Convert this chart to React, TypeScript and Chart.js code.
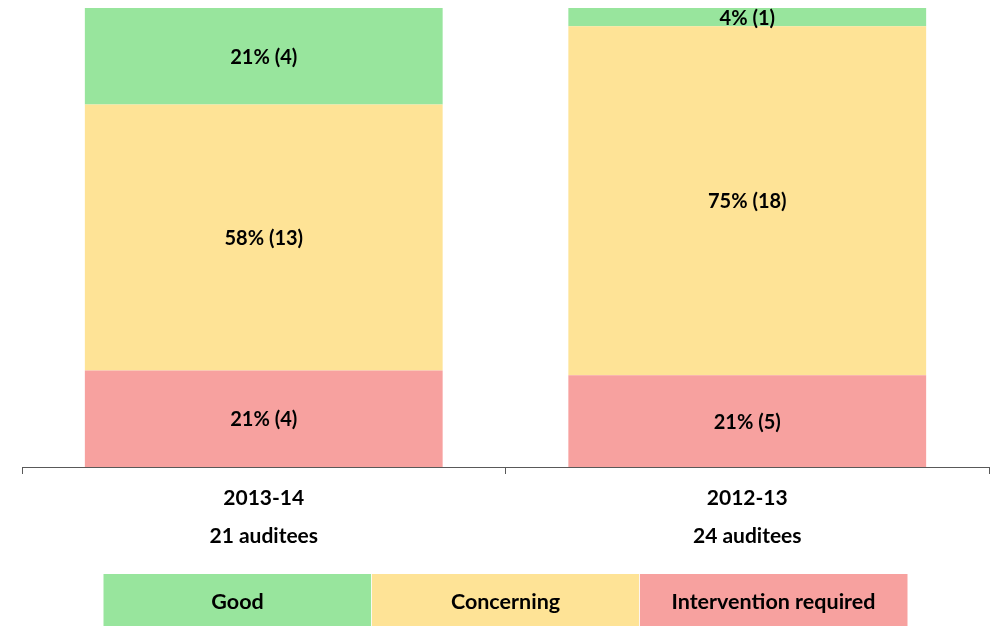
import React, { useEffect, useRef } from "react";
import { Chart, registerables } from "chart.js";

Chart.register(...registerables);

const categories = ["2013-14", "2012-13"];
const auditees = ["21 auditees", "24 auditees"];

// bar segment heights (share of auditees, %)
const interventionPct = [21, 20];
const concerningPct = [58, 76];
const goodPct = [21, 4];

// printed percentages
const interventionLabel = [21, 21];
const concerningLabel = [58, 75];
const goodLabel = [21, 4];

const interventionCount = [4, 5];
const concerningCount = [13, 18];
const goodCount = [4, 1];

const legendNames = ["Good", "Concerning", "Intervention required"];

const GREEN = "#98E59D";
const YELLOW = "#FEE396";
const RED = "#F7A19F";
const AXIS = "#595959";
const FONT = "Lato, 'Open Sans', sans-serif";

const labelPlugin = {
  id: "segLabels",
  afterDatasetsDraw(chart: any) {
    const ctx = chart.ctx;
    ctx.save();
    ctx.font = `bold 20px ${FONT}`;
    ctx.fillStyle = "#000";
    ctx.textAlign = "center";
    ctx.textBaseline = "middle";
    chart.data.datasets.forEach((ds: any, di: number) => {
      const meta = chart.getDatasetMeta(di);
      meta.data.forEach((bar: any, i: number) => {
        const p = bar.getProps(["x", "y", "base"], true);
        const txt = `${ds.printed[i]}% (${ds.counts[i]})`;
        ctx.fillText(txt, p.x, (p.y + p.base) / 2 + 1);
      });
    });
    ctx.restore();
  },
};

const legendPlugin = {
  id: "boxLegend",
  afterDraw(chart: any) {
    const ctx = chart.ctx;
    const { left, right } = chart.chartArea;
    const center = (left + right) / 2;
    const boxW = 268;
    const boxH = 52;
    const top = chart.height - boxH;
    const cols = [GREEN, YELLOW, RED];
    const startX = center - (boxW * 3) / 2;
    ctx.save();
    legendNames.forEach((name, i) => {
      const x = startX + i * boxW;
      ctx.fillStyle = cols[i];
      ctx.fillRect(x, top, boxW, boxH);
      if (i > 0) {
        ctx.fillStyle = "rgba(255,255,255,0.8)";
        ctx.fillRect(x - 0.5, top, 1, boxH);
      }
      ctx.fillStyle = "#000";
      ctx.font = `bold 21.5px ${FONT}`;
      ctx.textAlign = "center";
      ctx.textBaseline = "middle";
      ctx.fillText(name, x + boxW / 2, top + boxH / 2 + 2);
    });
    ctx.restore();
  },
};

export default function App() {
  const ref = useRef<HTMLCanvasElement | null>(null);

  useEffect(() => {
    if (!ref.current) return;
    const labels = categories.map((c, i) => [c, auditees[i]]);
    const chart = new Chart(ref.current, {
      type: "bar",
      data: {
        labels,
        datasets: [
          {
            label: "Intervention required",
            data: interventionPct,
            printed: interventionLabel,
            counts: interventionCount,
            backgroundColor: RED,
          } as any,
          {
            label: "Concerning",
            data: concerningPct,
            printed: concerningLabel,
            counts: concerningCount,
            backgroundColor: YELLOW,
          } as any,
          {
            label: "Good",
            data: goodPct,
            printed: goodLabel,
            counts: goodCount,
            backgroundColor: GREEN,
          } as any,
        ],
      },
      options: {
        animation: false,
        responsive: false,
        maintainAspectRatio: false,
        layout: { padding: { top: 8, left: 22, right: 5, bottom: 0 } },
        datasets: { bar: { barPercentage: 0.74, categoryPercentage: 1, borderWidth: 0 } },
        plugins: {
          legend: { display: false },
          tooltip: { enabled: false },
          title: { display: false },
        },
        scales: {
          x: {
            stacked: true,
            offset: true,
            grid: {
              display: true,
              drawOnChartArea: false,
              drawTicks: true,
              tickLength: 7,
              color: AXIS,
              offset: true,
            },
            border: { display: true, color: AXIS, width: 1 },
            ticks: {
              color: "#000",
              padding: 5,
              font: { family: FONT, size: 21, weight: "bold", lineHeight: 38 / 21 },
              maxRotation: 0,
            },
            afterFit(scale: any) {
              scale.height = 159;
            },
          },
          y: {
            stacked: true,
            display: false,
            min: 0,
            max: 100,
          },
        },
      } as any,
      plugins: [labelPlugin, legendPlugin],
    });
    return () => chart.destroy();
  }, []);

  return (
    <div style={{ position: "absolute", left: 0, top: 0, width: 994, height: 626, background: "#fff" }}>
      <canvas ref={ref} width={994} height={626} style={{ width: 994, height: 626, display: "block" }} />
    </div>
  );
}
